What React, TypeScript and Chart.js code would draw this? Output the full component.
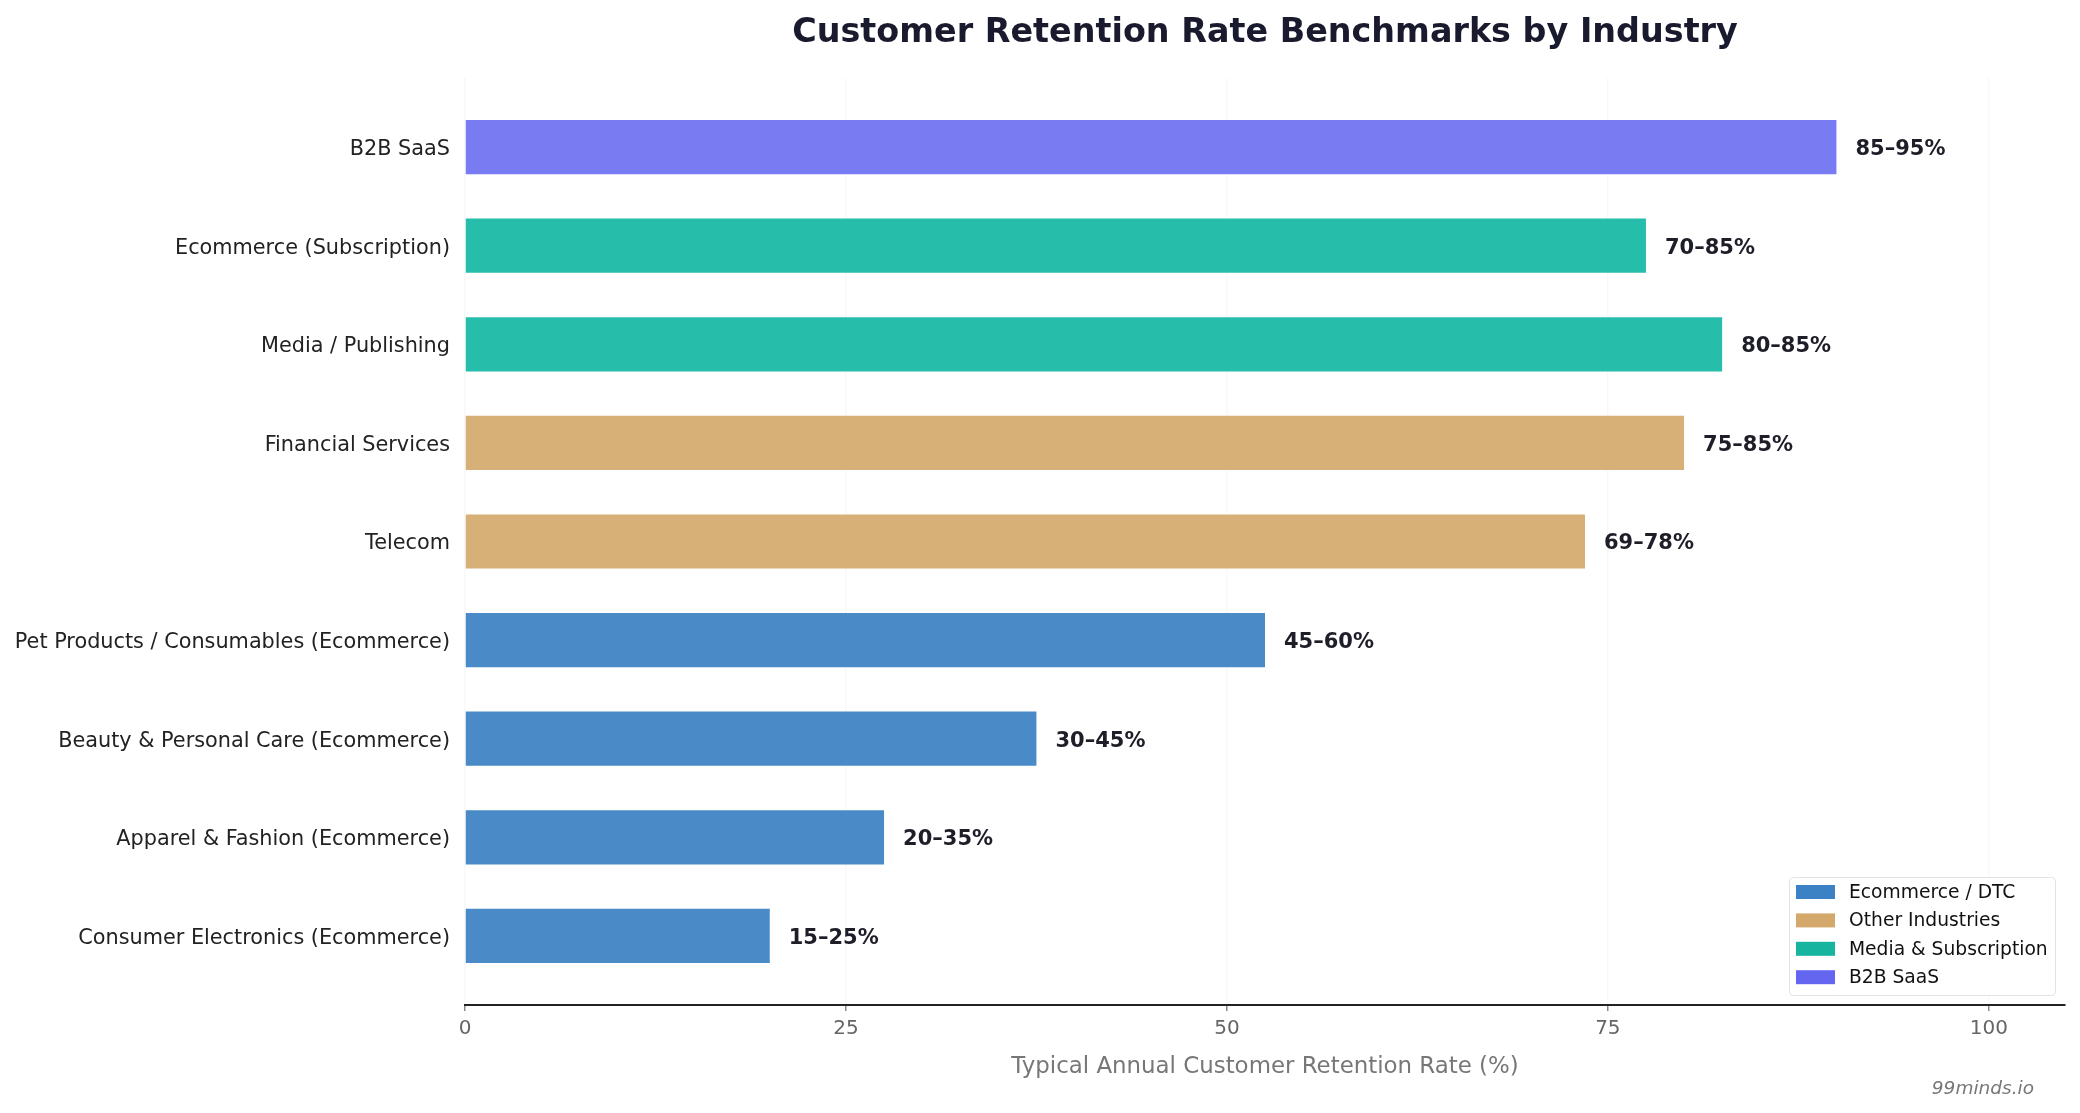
import React, { useEffect, useRef } from "react";
import { Chart, registerables } from "chart.js";

Chart.register(...registerables);

// Industries, top to bottom
const INDUSTRIES = [
  "B2B SaaS",
  "Ecommerce (Subscription)",
  "Media / Publishing",
  "Financial Services",
  "Telecom",
  "Pet Products / Consumables (Ecommerce)",
  "Beauty & Personal Care (Ecommerce)",
  "Apparel & Fashion (Ecommerce)",
  "Consumer Electronics (Ecommerce)",
];

// Midpoint of each retention range (%)
const RETENTION_MID = [90, 77.5, 82.5, 80, 73.5, 52.5, 37.5, 27.5, 20];

// Range text shown beside each bar
const RANGE_LABELS = [
  "85–95%",
  "70–85%",
  "80–85%",
  "75–85%",
  "69–78%",
  "45–60%",
  "30–45%",
  "20–35%",
  "15–25%",
];

// Group of each industry (index into GROUPS)
const GROUP_OF = [3, 2, 2, 1, 1, 0, 0, 0, 0];

const GROUPS = ["Ecommerce / DTC", "Other Industries", "Media & Subscription", "B2B SaaS"];
const GROUP_BAR_COLORS = ["#4a8bc7", "#d6b077", "#26bdab", "#787bf2"];
const GROUP_LEGEND_COLORS = ["#3b82c4", "#d4a86a", "#17b5a0", "#6466f0"];

const X_TICKS = [0, 25, 50, 75, 100];

const TITLE = "Customer Retention Rate Benchmarks by Industry";
const X_TITLE = "Typical Annual Customer Retention Rate (%)";
const WATERMARK = "99minds.io";

const FONT = "'DejaVu Sans', 'Noto Sans', sans-serif";

export default function App() {
  const canvasRef = useRef<HTMLCanvasElement | null>(null);

  useEffect(() => {
    document.body.style.margin = "0";
    const canvas = canvasRef.current;
    if (!canvas) return;

    const decorations = {
      id: "decorations",
      afterDatasetsDraw(chart: any) {
        const { ctx, chartArea } = chart;
        const meta = chart.getDatasetMeta(0);
        ctx.save();
        // range labels at bar ends
        ctx.font = `bold 21px ${FONT}`;
        ctx.fillStyle = "#1e1e28";
        ctx.textAlign = "left";
        ctx.textBaseline = "middle";
        meta.data.forEach((bar: any, i: number) => {
          ctx.fillText(RANGE_LABELS[i], bar.x + 19, bar.y + 2.5);
        });

        // title centred over the plot
        ctx.font = `bold 33.4px ${FONT}`;
        ctx.fillStyle = "#1a1a2e";
        ctx.textAlign = "center";
        ctx.textBaseline = "alphabetic";
        ctx.fillText(TITLE, (chartArea.left + chartArea.right) / 2, 42);

        // legend
        const lx = 1789, ly = 877, lw = 266, lh = 118;
        ctx.fillStyle = "rgba(255,255,255,0.9)";
        ctx.strokeStyle = "#e2e2e2";
        ctx.lineWidth = 1;
        ctx.beginPath();
        (ctx as any).roundRect(lx + 0.5, ly + 0.5, lw, lh, 4);
        ctx.fill();
        ctx.stroke();
        ctx.font = `18.7px ${FONT}`;
        ctx.textAlign = "left";
        ctx.textBaseline = "middle";
        GROUPS.forEach((g, i) => {
          const cy = 892 + i * 28.4;
          ctx.fillStyle = GROUP_LEGEND_COLORS[i];
          ctx.fillRect(1796, cy - 7, 39, 14);
          ctx.fillStyle = "#111";
          ctx.fillText(g, 1849, cy + 1);
        });

        // watermark
        ctx.font = `italic 18.5px ${FONT}`;
        ctx.fillStyle = "#777";
        ctx.textAlign = "right";
        ctx.textBaseline = "alphabetic";
        ctx.fillText(WATERMARK, 2034, 1094);
        ctx.restore();
      },
    };

    const chart = new Chart(canvas, {
      type: "bar",
      data: {
        datasets: [
          {
            data: RETENTION_MID.map((v, i) => ({ x: v, y: i })),
            backgroundColor: GROUP_OF.map((g) => GROUP_BAR_COLORS[g]),
            borderWidth: 0,
            categoryPercentage: 1,
            barPercentage: 0.55,
          },
        ],
      },
      options: {
        indexAxis: "y",
        responsive: false,
        animation: false,
        layout: { padding: { top: 78, right: 15, left: 0, bottom: 0 } },
        plugins: {
          legend: { display: false },
          title: { display: false },
          tooltip: { enabled: false },
        },
        scales: {
          x: {
            type: "linear",
            position: "bottom",
            min: 0,
            max: 105,
            afterBuildTicks: (scale: any) => {
              scale.ticks = X_TICKS.map((v) => ({ value: v }));
            },
            afterFit: (scale: any) => {
              scale.height = 108;
            },
            ticks: {
              color: "#666",
              font: { family: FONT, size: 20 },
              padding: 6,
            },
            grid: {
              color: "rgba(0,0,0,0.028)",
              lineWidth: 1.5,
              drawTicks: true,
              tickLength: 6,
              tickColor: "#888",
            },
            border: { display: true, color: "#222", width: 2 },
            title: {
              display: true,
              text: X_TITLE,
              color: "#777",
              font: { family: FONT, size: 22.9 },
              padding: { top: 0, bottom: 32 },
            },
          },
          y: {
            type: "linear",
            offset: false,
            min: -0.7,
            max: 8.7,
            reverse: true,
            afterBuildTicks: (scale: any) => {
              scale.ticks = INDUSTRIES.map((_, i) => ({ value: i }));
            },
            afterFit: (scale: any) => {
              scale.width = 465;
            },
            ticks: {
              color: "#222",
              font: { family: FONT, size: 20.8 },
              padding: 15,
              labelOffset: 2.5,
              callback: (v: any) => INDUSTRIES[v as number] ?? "",
            },
            grid: { display: false, drawTicks: false },
            border: { display: false },
          },
        },
      },
      plugins: [decorations],
    } as any);

    return () => chart.destroy();
  }, []);

  return (
    <div style={{ position: "absolute", left: 0, top: 0, width: 2080, height: 1113, background: "#fff" }}>
      <canvas ref={canvasRef} width={2080} height={1113} style={{ width: 2080, height: 1113 }} />
    </div>
  );
}
